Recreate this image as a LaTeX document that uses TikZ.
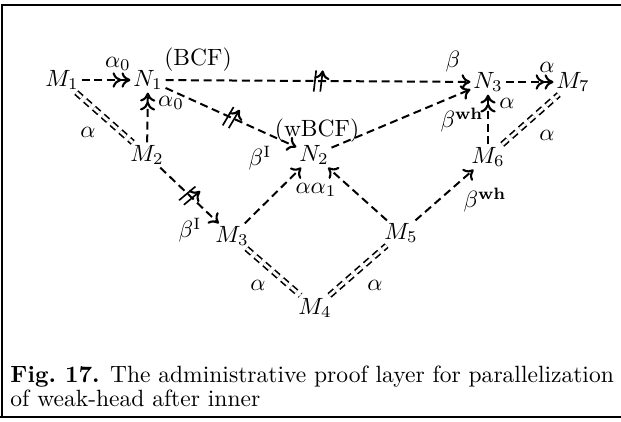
\documentclass[tikz,border=0pt]{standalone}
\usetikzlibrary{arrows.meta,decorations.markings}
\begin{document}
\begin{tikzpicture}[x=0.425pt,y=-0.425pt,
  obj/.style={inner sep=1pt},
  lbl/.style={inner sep=0pt},
  red/.style={dash pattern=on 3.4pt off 2pt,line width=0.85pt,-{To[length=3.8pt,width=6.5pt,line width=0.9pt]}},
  mred/.style={dash pattern=on 3.4pt off 2pt,line width=0.85pt,-{To[length=3.8pt,width=6.5pt,line width=0.9pt]To[length=3.8pt,width=6.5pt,line width=0.9pt]}},
  eqv/.style={dash pattern=on 3pt off 2pt,double,line width=0.7pt,double distance=1.2pt},
  parmk/.style={decoration={markings,mark=at position #1 with {\draw[solid,line width=0.7pt] (-1.8pt,-4.5pt)--(-0.8pt,4.5pt) (1.0pt,-4.5pt)--(2.0pt,4.5pt);}},postaction=decorate}
]
\useasboundingbox (0,0) rectangle (621,421);
% frame
\draw[line width=0.8pt] (621,5) -- (2,5) -- (2,417) (0,417) -- (621,417);
% objects
\node[obj] (M1) at (62,80) {$M_1$};
\node[obj] (N1) at (148,80) {$N_1$};
\node[obj] (N3) at (488,82) {$N_3$};
\node[obj] (M7) at (573,82) {$M_7$};
\node[obj] (M2) at (147,155) {$M_2$};
\node[obj] (N2) at (314,155) {$N_2$};
\node[obj] (M6) at (488,157) {$M_6$};
\node[obj] (M3) at (232,236) {$M_3$};
\node[obj] (M5) at (401,233) {$M_5$};
\node[obj] (M4) at (315,308) {$M_4$};
% edges
\draw[mred] (M1) -- (N1);
\draw[mred] (M2) -- (N1);
\draw[eqv] (M1) -- (M2);
\draw[red,parmk=0.5] (N1) -- (N3);
\draw[red,parmk=0.5] (N1) -- (N2);
\draw[red,parmk=0.5] (M2) -- (M3);
\draw[red] (M3) -- (N2);
\draw[red] (M5) -- (N2);
\draw[red] (N2) -- (N3);
\draw[mred] (M6) -- (N3);
\draw[mred] (N3) -- (M7);
\draw[eqv] (M6) -- (M7);
\draw[red] (M5) -- (M6);
\draw[eqv] (M3) -- (M4);
\draw[eqv] (M4) -- (M5);
% labels
\node[lbl] (l1) at (118,64) {$\alpha_0$};
\node[lbl] (l2) at (198,60) {(BCF)};
\node[lbl] (l3) at (171,103) {$\alpha_0$};
\node[lbl] (l4) at (88,132) {$\alpha$};
\node[lbl] (l5) at (317,131) {(wBCF)};
\node[lbl] (l6) at (260,158) {$\beta^{\mathrm{I}}$};
\node[lbl] (l7) at (453,62) {$\beta$};
\node[lbl] (l8) at (547,67) {$\alpha$};
\node[lbl] (l9) at (507,103) {$\alpha$};
\node[lbl] (l10) at (462,120) {$\beta^{\mathbf{wh}}$};
\node[lbl] (l11) at (547,135) {$\alpha$};
\node[lbl] (l12) at (190,230) {$\beta^{\mathrm{I}}$};
\node[lbl] (l13) at (316,190) {$\alpha\alpha_1$};
\node[lbl] (l14) at (485,200) {$\beta^{\mathbf{wh}}$};
\node[lbl] (l15) at (258,285) {$\alpha$};
\node[lbl] (l16) at (375,285) {$\alpha$};
% caption
\node[lbl,anchor=base west] (cap1) at (10,382) {\textbf{Fig.\ 17.} The administrative proof layer for parallelization};
\node[lbl,anchor=base west] (cap2) at (10,406) {of weak-head after inner};
\end{tikzpicture}
\end{document}
